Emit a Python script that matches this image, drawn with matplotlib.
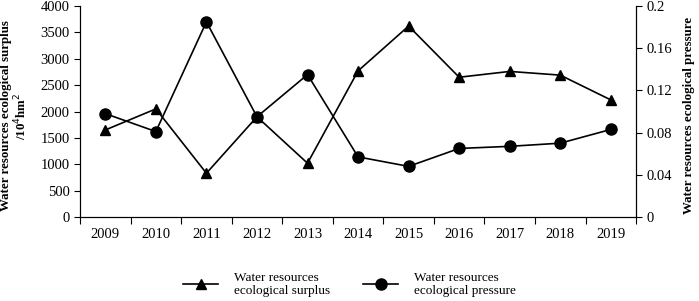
import matplotlib
matplotlib.use("Agg")
from matplotlib import pyplot as plt

plt.rcParams['font.family'] = ['Liberation Serif', 'DejaVu Serif']

years = ['2009', '2010', '2011', '2012', '2013', '2014', '2015', '2016', '2017', '2018', '2019']
surplus = [1650, 2050, 830, 1900, 1020, 2770, 3620, 2650, 2760, 2690, 2220]
pressure = [0.098, 0.081, 0.185, 0.095, 0.135, 0.057, 0.048, 0.065, 0.067, 0.070, 0.083]

fig = plt.figure(figsize=(6.99, 3.01), dpi=100)
ax = fig.add_axes([0.1145, 0.279, 0.7955, 0.701])
ax2 = ax.twinx()

x = list(range(len(years)))
l1, = ax.plot(x, surplus, color='black', lw=1.2, marker='^', markersize=7,
              label='Water resources\necological surplus')
l2, = ax2.plot(x, pressure, color='black', lw=1.2, marker='o', markersize=8,
               label='Water resources\necological pressure')

ax.set_xlim(-0.5, len(years) - 0.5)
ax.set_ylim(0, 4000)
ax.set_yticks(range(0, 4001, 500))
ax2.set_ylim(0, 0.2)
ax2.set_yticks([0, 0.04, 0.08, 0.12, 0.16, 0.2])
ax2.set_yticklabels(['0', '0.04', '0.08', '0.12', '0.16', '0.2'])

# ticks sit between the categories, labels at the centres
ax.set_xticks([i - 0.5 for i in range(len(years) + 1)])
ax.set_xticklabels([])
ax.set_xticks(x, minor=True)
ax.set_xticklabels(years, minor=True)
ax.tick_params(axis='x', which='minor', length=0, pad=8, labelsize=10.5)
ax.tick_params(axis='x', which='major', length=5, direction='out')
ax.tick_params(axis='y', labelsize=10.5, length=4, direction='out')
ax2.tick_params(axis='y', labelsize=10.5, length=4, direction='out')

for a in (ax, ax2):
    a.spines['top'].set_visible(False)

ax.set_ylabel('Water resources ecological surplus\n/10$^4$hm$^2$', fontweight='bold',
              fontsize=9.3, linespacing=1.05)
ax2.set_ylabel('Water resources ecological pressure', fontweight='bold', fontsize=9.3)
ax.yaxis.set_label_coords(-0.092, 0.48)
ax2.yaxis.set_label_coords(1.085, 0.48)

fig.legend(handles=[l1, l2], loc='center', bbox_to_anchor=(0.50, 0.055), ncol=2,
           frameon=False, fontsize=9.5, handlelength=2.65, columnspacing=2.5,
           handletextpad=1.2)

fig.savefig('out.png', dpi=100)
